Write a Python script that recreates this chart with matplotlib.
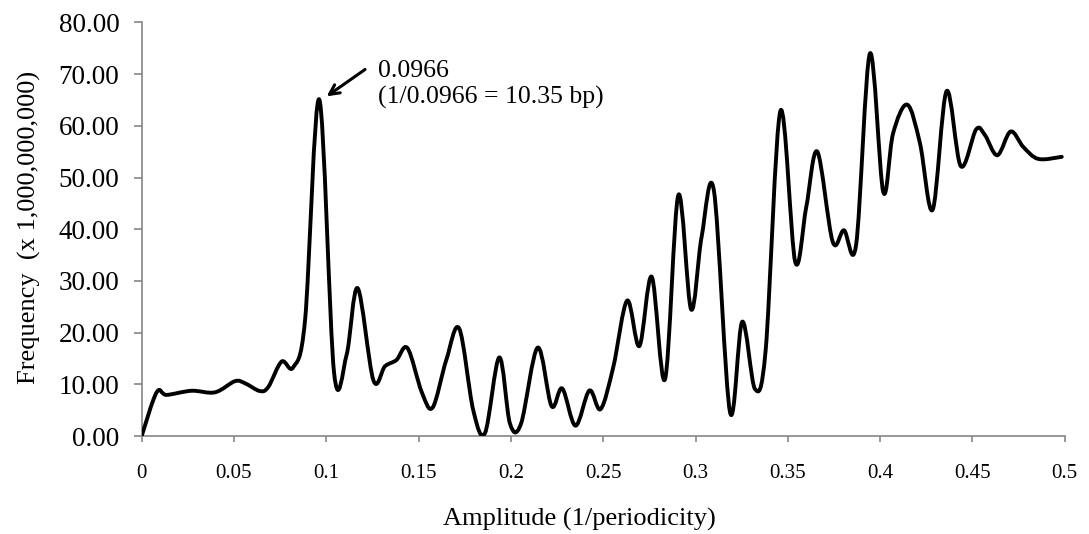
import numpy as np
import matplotlib
matplotlib.use("Agg")
import matplotlib.pyplot as plt
from matplotlib.path import Path
from matplotlib.patches import PathPatch

# Values (peaks, troughs and a few shoulders).
amplitude = [0.000, 0.0081, 0.0135, 0.027, 0.0397, 0.0505, 0.056, 0.064, 0.0686,
             0.0758, 0.0821, 0.0885, 0.0962, 0.1042, 0.111, 0.117, 0.1255, 0.1318,
             0.138, 0.144, 0.1517, 0.1576, 0.165, 0.172, 0.1796, 0.186, 0.1937,
             0.1995, 0.2055, 0.2145, 0.222, 0.2278, 0.235, 0.2425, 0.2486, 0.2555,
             0.263, 0.2696, 0.2763, 0.2835, 0.2907, 0.2976, 0.3033, 0.310, 0.3187,
             0.3253, 0.3322, 0.338, 0.346, 0.354, 0.360, 0.366, 0.3743, 0.3804,
             0.387, 0.3945, 0.4017, 0.407, 0.4147, 0.4216, 0.4285, 0.436, 0.4437,
             0.452, 0.4568, 0.4635, 0.4707, 0.4776, 0.4857, 0.4984]
frequency = [0.0, 8.45, 7.95, 8.75, 8.45, 10.6, 10.2, 8.7, 9.5,
             14.4, 13.3, 22.4, 65.1, 12.3, 15.7, 28.6, 10.8, 13.5,
             14.7, 17.0, 8.5, 5.5, 14.7, 20.8, 5.0, 0.6, 15.2,
             2.4, 2.4, 17.1, 5.8, 9.2, 2.0, 8.8, 5.2, 13.4,
             26.2, 17.4, 30.8, 11.0, 46.6, 24.5, 38.5, 47.4, 4.6,
             22.1, 9.1, 16.6, 62.9, 33.7, 44.3, 55.0, 37.6, 39.8,
             37.0, 74.0, 47.2, 58.5, 64.1, 56.6, 43.8, 66.7, 52.2,
             59.3, 58.2, 54.3, 58.9, 55.9, 53.6, 54.0]

x_ticks = [0, 0.05, 0.1, 0.15, 0.2, 0.25, 0.3, 0.35, 0.4, 0.45, 0.5]
x_tick_labels = ["0", "0.05", "0.1", "0.15", "0.2", "0.25", "0.3", "0.35", "0.4", "0.45", "0.5"]
y_ticks = [0, 10, 20, 30, 40, 50, 60, 70, 80]

peak_x, peak_y = 0.0962, 65.1


def smooth_path(xs, ys, t=1.0 / 6):
    """Excel-style smoothed line: cubic Bezier through every point."""
    p = np.column_stack([xs, ys])
    n = len(p)
    verts = [p[0]]
    codes = [Path.MOVETO]
    for i in range(n - 1):
        prev = p[i - 1] if i > 0 else p[i]
        nxt = p[i + 2] if i + 2 < n else p[i + 1]
        c1 = p[i] + (p[i + 1] - prev) * t
        c2 = p[i + 1] - (nxt - p[i]) * t
        verts += [c1, c2, p[i + 1]]
        codes += [Path.CURVE4] * 3
    return Path(verts, codes)


plt.rcParams["font.family"] = ["Liberation Serif", "DejaVu Serif"]
gray = "#868686"

fig = plt.figure(figsize=(10.89, 5.34), dpi=100)
ax = fig.add_axes([0.1301, 0.1835, 0.8476, 0.7745])

ax.add_patch(PathPatch(smooth_path(amplitude, frequency), facecolor="none",
                       edgecolor="black", lw=2.8, capstyle="round", joinstyle="round"))

ax.set_xlim(0, 0.5)
ax.set_ylim(0, 80)
ax.set_xticks(x_ticks)
ax.set_xticklabels(x_tick_labels)
ax.set_yticks(y_ticks)
ax.set_yticklabels([f"{v:.2f}" for v in y_ticks])

for side in ("top", "right"):
    ax.spines[side].set_visible(False)
for side in ("left", "bottom"):
    ax.spines[side].set_color(gray)
    ax.spines[side].set_linewidth(1.2)
    ax.spines[side].set_zorder(0)

ax.tick_params(axis="y", direction="out", length=6, width=1.2, color=gray,
               labelsize=19.5, pad=10)
ax.tick_params(axis="x", direction="out", length=4.5, width=1.2, color=gray,
               labelsize=15, pad=16)

ax.set_xlabel("Amplitude (1/periodicity)", fontsize=19)
ax.xaxis.set_label_coords(0.474, -0.174)
ax.set_ylabel("Frequency  (x 1,000,000,000)", fontsize=19)
ax.yaxis.set_label_coords(-0.109, 0.505)

ax.annotate("", xy=(peak_x + 0.004, peak_y + 0.6), xytext=(0.121, 70.9),
            arrowprops=dict(arrowstyle="->,head_length=0.7,head_width=0.35",
                            lw=2.2, color="black", shrinkA=0, shrinkB=0))
ax.text(0.1282, 70.6, "0.0966", fontsize=18.5, va="center", ha="left")
ax.text(0.1282, 65.4, "(1/0.0966 = 10.35 bp)", fontsize=18.5, va="center", ha="left")

fig.savefig("out.png", dpi=100)
